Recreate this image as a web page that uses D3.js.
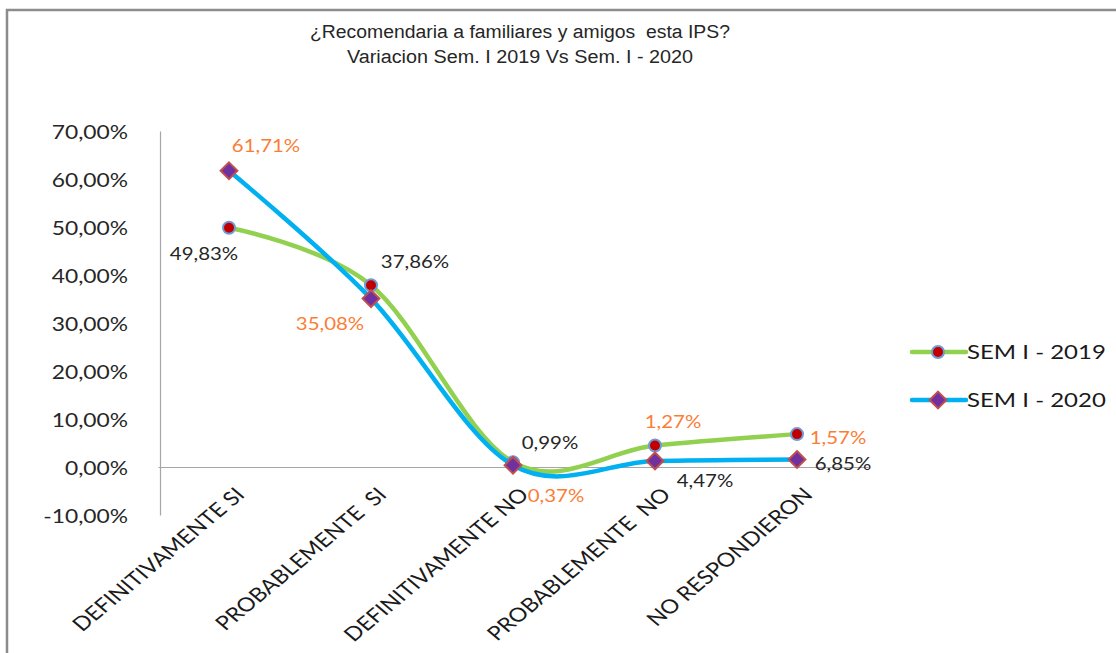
<!DOCTYPE html>
<html>
<head>
<meta charset="utf-8">
<script src="https://cdn.jsdelivr.net/npm/d3@7"></script>
<style>
  html, body { margin: 0; padding: 0; background: #fff; }
  svg { display: block; }
</style>
</head>
<body>
<svg id="chart" width="1116" height="653"></svg>
<script>
// ---- data ----
const categories = ["DEFINITIVAMENTE SI", "PROBABLEMENTE  SI", "DEFINITIVAMENTE NO", "PROBABLEMENTE  NO", "NO RESPONDIERON"];
const sem2019 = [49.83, 37.86, 0.99, 4.47, 6.85];
const sem2020 = [61.71, 35.08, 0.37, 1.27, 1.57];
const seriesNames = ["SEM I - 2019", "SEM I - 2020"];
const yTicks = [-10, 0, 10, 20, 30, 40, 50, 60, 70];
const titleLines = ["¿Recomendaria a familiares y amigos  esta IPS?", "Variacion Sem. I 2019 Vs Sem. I - 2020"];

// label placement (dx, dy from the point, text centred)
const labelOffsets2019 = [[-25, 32], [44, -17], [37, -13], [50, 41], [46, 36]];
const labelOffsets2020 = [[37, -19], [-41, 31], [43, 37], [18, -33], [41, -15]];

const fmt = v => v.toFixed(2).replace(".", ",") + "%";

const svg = d3.select("#chart");
const uiFont = "Lato, 'Open Sans', sans-serif";
const SX = 1.2; // horizontal widening of the text face

// places a text at (x, y) with a widened face and optional rotation
function placeText(sel, xf, yf, rot = 0) {
  sel.attr("x", 0).attr("y", 0)
    .attr("transform", (d, i) => {
      const t = `translate(${xf(d, i)},${yf(d, i)}) scale(${SX},1)`;
      return rot ? t + ` rotate(${rot})` : t;
    });
}

// frame
svg.append("path")
  .attr("d", "M7,653 V10 H1116")
  .attr("fill", "none")
  .attr("stroke", "#8c8c8c")
  .attr("stroke-width", 2.5);

// title
svg.append("g").selectAll("text")
  .data(titleLines)
  .join("text")
  .attr("x", 520)
  .attr("y", (d, i) => 38 + i * 25)
  .attr("text-anchor", "middle")
  .attr("font-family", "'Liberation Sans Narrow', 'Arial Narrow', 'Liberation Sans', sans-serif")
  .attr("font-size", 18)
  .attr("fill", "#262626")
  .attr("xml:space", "preserve")
  .style("white-space", "pre")
  .attr("textLength", (d, i) => i === 0 ? 420 : 346)
  .attr("lengthAdjust", "spacingAndGlyphs")
  .text(d => d);

// scales
const x = d3.scaleBand().domain(categories).range([158, 868]);
const cx = c => x(c) + x.bandwidth() / 2;
const y = d3.scaleLinear().domain([-10, 70]).range([515, 131]);

// y axis
const yAxis = svg.append("g")
  .attr("transform", "translate(160,0)")
  .call(d3.axisLeft(y).tickValues(yTicks).tickSize(0).tickFormat(fmt));
yAxis.select(".domain").attr("stroke", "#a6a6a6").attr("stroke-width", 1.2);
yAxis.selectAll(".tick text")
  .attr("dy", null)
  .attr("font-family", uiFont)
  .attr("font-size", 19)
  .attr("fill", "#262626")
  .call(placeText, () => -32, () => 7);

// zero line with category labels
const xAxis = svg.append("g")
  .attr("transform", `translate(0,${y(0)})`)
  .call(d3.axisBottom(x).tickSize(0).tickFormat(""));
xAxis.select(".domain").attr("stroke", "#a6a6a6").attr("stroke-width", 1.2);

svg.append("g").selectAll("text")
  .data(categories)
  .join("text")
  .attr("text-anchor", "end")
  .attr("font-family", uiFont)
  .attr("font-size", 19.5)
  .attr("fill", "#1a1a1a")
  .attr("xml:space", "preserve")
  .style("white-space", "pre")
  .text(d => d)
  .call(placeText, d => cx(d) + 17, () => 496, -45);

// lines
const line = d3.line()
  .x((d, i) => cx(categories[i]))
  .y(d => y(d))
  .curve(d3.curveCatmullRom.alpha(0));

function drawSeries(values, color, markerType) {
  svg.append("path")
    .datum(values)
    .attr("d", line)
    .attr("fill", "none")
    .attr("stroke", color)
    .attr("stroke-width", 4.5)
    .attr("stroke-linecap", "round");
  const g = svg.append("g");
  values.forEach((v, i) => {
    const px = cx(categories[i]), py = y(v);
    if (markerType === "circle") {
      g.append("circle").attr("cx", px).attr("cy", py).attr("r", 6)
        .attr("fill", "#c00000").attr("stroke", "#6f9ad6").attr("stroke-width", 2);
    } else {
      g.append("path")
        .attr("d", d3.symbol(d3.symbolDiamond2, 180)())
        .attr("transform", `translate(${px},${py})`)
        .attr("fill", "#7030a0").attr("stroke", "#c0504d").attr("stroke-width", 2);
    }
  });
}
drawSeries(sem2019, "#92d050", "circle");
drawSeries(sem2020, "#00b0f0", "diamond");

// data labels
function drawLabels(values, offsets, color) {
  svg.append("g").selectAll("text")
    .data(values)
    .join("text")
    .attr("text-anchor", "middle")
    .attr("font-family", uiFont)
    .attr("font-size", 17)
    .attr("fill", color)
    .text(d => fmt(d))
    .call(placeText,
      (d, i) => cx(categories[i]) + offsets[i][0],
      (d, i) => y(d) + offsets[i][1]);
}
drawLabels(sem2019, labelOffsets2019, "#262626");
drawLabels(sem2020, labelOffsets2020, "#fb7d35");

// legend
const legend = svg.append("g");
[["#92d050", "circle"], ["#00b0f0", "diamond"]].forEach(([color, m], i) => {
  const ly = 352 + i * 48;
  legend.append("line").attr("x1", 912).attr("x2", 966).attr("y1", ly).attr("y2", ly)
    .attr("stroke", color).attr("stroke-width", 4.5).attr("stroke-linecap", "round");
  if (m === "circle") {
    legend.append("circle").attr("cx", 938).attr("cy", ly).attr("r", 6)
      .attr("fill", "#c00000").attr("stroke", "#6f9ad6").attr("stroke-width", 2);
  } else {
    legend.append("path").attr("d", d3.symbol(d3.symbolDiamond2, 180)())
      .attr("transform", `translate(938,${ly})`)
      .attr("fill", "#7030a0").attr("stroke", "#c0504d").attr("stroke-width", 2);
  }
  legend.append("text")
    .attr("font-family", uiFont).attr("font-size", 20).attr("fill", "#1a1a1a")
    .text(seriesNames[i])
    .call(placeText, () => 967, () => ly + 7);
});
</script>
</body>
</html>
